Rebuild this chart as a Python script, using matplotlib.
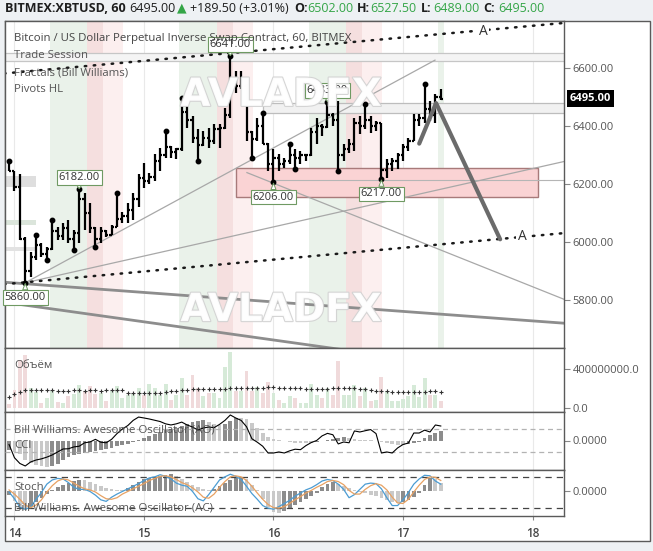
import numpy as np
import matplotlib
matplotlib.use('Agg')
import matplotlib.pyplot as plt
import matplotlib.patheffects as pe
import matplotlib.transforms as mtransforms
from matplotlib.patches import Rectangle

plt.rcParams['font.family'] = ['Open Sans', 'DejaVu Sans']

# ---------------- data ----------------
# hourly bars, first one on the 13th at 23:00
first_bar_day = 13 + 23 / 24

opens = [6275, 6245, 6190, 6012, 5900, 5950, 5990, 5960, 5975, 6040,
         6020, 6050, 6010, 6030, 6150, 6100, 6050, 6010, 6040, 6025,
         6052, 6080, 6090, 6110, 6150, 6220, 6210, 6225, 6280, 6300,
         6330, 6310, 6320, 6450, 6420, 6360, 6335, 6360, 6350, 6390,
         6395, 6440, 6560, 6540, 6540, 6380, 6355, 6400, 6340, 6270,
         6290, 6270, 6280, 6300, 6290, 6300, 6300, 6380, 6400, 6398,
         6440, 6420, 6300, 6320, 6340, 6410, 6400, 6420, 6400, 6410,
         6250, 6270, 6280, 6300, 6330, 6350, 6420, 6430, 6460, 6440,
         6502]
highs = [6281, 6247, 6236, 6017, 5965, 6024, 5996, 5983, 6075, 6051,
         6065, 6075, 6041, 6182, 6168, 6134, 6051, 6051, 6041, 6058,
         6168, 6103, 6134, 6168, 6236, 6274, 6240, 6305, 6326, 6384,
         6332, 6326, 6497, 6470, 6435, 6391, 6384, 6394, 6408, 6408,
         6463, 6641, 6590, 6590, 6545, 6384, 6428, 6446, 6342, 6322,
         6305, 6291, 6339, 6322, 6315, 6305, 6394, 6428, 6408, 6483,
         6446, 6487, 6339, 6356, 6428, 6435, 6477, 6435, 6418, 6411,
         6288, 6291, 6308, 6339, 6360, 6442, 6442, 6545, 6487, 6511,
         6527.5]
lows = [6247, 6178, 6007, 5860, 5880, 5938, 5948, 5938, 5972, 6007,
        6007, 5996, 5972, 5996, 6041, 6031, 5983, 5996, 6017, 6024,
        6051, 6065, 6065, 6075, 6120, 6188, 6202, 6212, 6247, 6291,
        6291, 6288, 6315, 6394, 6343, 6281, 6332, 6326, 6339, 6326,
        6391, 6428, 6514, 6528, 6350, 6291, 6350, 6339, 6247, 6206,
        6247, 6257, 6271, 6254, 6271, 6281, 6298, 6339, 6367, 6394,
        6401, 6247, 6281, 6308, 6315, 6374, 6391, 6377, 6384, 6217,
        6223, 6247, 6254, 6281, 6315, 6350, 6401, 6411, 6418, 6411,
        6489]
closes = [6245, 6190, 6012, 5900, 5950, 5990, 5960, 5975, 6040, 6020,
          6050, 6010, 6030, 6150, 6100, 6050, 6010, 6040, 6025, 6052,
          6080, 6090, 6110, 6150, 6220, 6210, 6225, 6280, 6300, 6330,
          6310, 6320, 6450, 6420, 6360, 6335, 6360, 6350, 6390, 6395,
          6440, 6560, 6540, 6540, 6380, 6355, 6400, 6340, 6270, 6290,
          6270, 6280, 6300, 6290, 6300, 6300, 6380, 6400, 6398, 6440,
          6420, 6300, 6320, 6340, 6410, 6400, 6420, 6400, 6410, 6250,
          6270, 6280, 6300, 6330, 6350, 6420, 6430, 6460, 6440, 6502,
          6495]

# volume, millions
volume = [40, 185, 490, 540, 205, 160, 50, 100, 170, 60,
          50, 120, 140, 240, 170, 230, 140, 150, 70, 170,
          230, 100, 135, 140, 200, 135, 250, 200, 135, 250,
          85, 135, 310, 135, 335, 200, 120, 150, 150, 100,
          420, 570, 170, 170, 380, 170, 220, 150, 270, 150,
          85, 50, 120, 100, 50, 50, 250, 135, 100, 210,
          135, 480, 135, 135, 240, 120, 210, 75, 85, 315,
          170, 70, 70, 90, 120, 240, 110, 310, 135, 135,
          70]
volume_ma = [110, 140, 160, 180, 185, 185, 180, 180, 180, 175,
             175, 175, 180, 180, 175, 180, 180, 175, 180, 185,
             185, 180, 155, 150, 150, 150, 150, 150, 155, 160,
             170, 175, 180, 180, 190, 190, 190, 195, 195, 195,
             190, 200, 200, 200, 205, 205, 210, 210, 215, 215,
             210, 210, 205, 200, 200, 195, 195, 190, 190, 195,
             200, 200, 200, 200, 200, 195, 190, 180, 175, 175,
             170, 165, 160, 160, 160, 160, 165, 165, 170, 170,
             165]

ao = [-9, -11, -13, -19, -22, -24, -25, -26, -25, -23,
      -19, -16, -14, -13, -12, -11, -10, -9, -8, -7,
      -5, -4, -3, -1, 1, 3, 5, 7, 9, 11,
      12, 13, 15, 17, 19, 20, 21, 19, 17, 16,
      17, 20, 23, 23, 22, 18, 13, 8, 4, 2,
      1, 0, -1, -2, -2, -2, -2, -1, 0, 1,
      2, 3, 4, 3, 2, 1, 1, 1, 0, -1,
      -2, -3, -4, -4, -3, -2, -1, 3, 6, 8,
      10]
cci = [-35, -150, -200, -222, -187, -170, -160, -145, -126, -100,
       -74, -72, -56, -50, -20, -13, 10, -15, -20, 10,
       60, 100, 130, 175, 204, 196, 187, 176, 165, 145,
       135, 145, 160, 135, 117, 91, 109, 117, 112, 140,
       175, 222, 196, 175, 120, 15, -15, -50, -109, -109,
       -100, -109, -90, -76, -80, -45, -18, 0, 40, 62,
       50, -30, -13, -20, 83, 74, 85, 95, 60, -109,
       -100, -109, -65, -35, -22, 65, 65, 90, 74, 135,
       126]
ac = [-4, -10, -17, -19, -16, -11, -7, -3, 1, 4,
      6, 8, 10, 11, 11, 9, 7, 5, 3, 2,
      1, 1, 3, 6, 9, 12, 13, 14, 15, 16,
      17, 15, 12, 9, 6, 4, 2, 1, 2, 5,
      8, 11, 13, 14, 12, 6, 1, -8, -16, -21,
      -22, -20, -17, -14, -11, -8, -5, -2, 4, 7,
      9, 7, 5, 3, 1, -1, -2, -4, -5, -7,
      -9, -11, -12, -11, -9, -6, -2, 6, 13, 12,
      8]
stoch_k = [51, 38, 22, 18, 22, 37, 50, 66, 74, 77,
           76, 69, 60, 56, 56, 52, 45, 36, 33, 41,
           47, 52, 57, 62, 67, 73, 78, 80, 84, 81,
           76, 68, 64, 62, 52, 38, 34, 46, 60, 74,
           80, 85, 81, 75, 62, 48, 37, 25, 20, 18,
           23, 29, 35, 43, 49, 55, 59, 65, 72, 75,
           73, 66, 56, 40, 46, 56, 66, 68, 67, 57,
           40, 25, 25, 36, 50, 66, 76, 83, 82, 72,
           66]
stoch_d = [55, 47, 37, 26, 21, 26, 36, 51, 63, 72,
           76, 74, 68, 62, 57, 55, 51, 44, 38, 37,
           40, 47, 52, 57, 62, 67, 73, 77, 81, 82,
           80, 75, 69, 65, 59, 51, 41, 39, 47, 60,
           71, 80, 82, 80, 73, 62, 49, 37, 27, 21,
           20, 23, 29, 36, 42, 49, 54, 60, 65, 71,
           73, 71, 65, 54, 47, 47, 56, 63, 67, 64,
           55, 41, 30, 29, 37, 51, 64, 75, 80, 79,
           73]

fractal_highs = [0, 5, 8, 13, 20, 29, 32, 41, 47, 52, 59, 66, 77]
fractal_lows = [3, 7, 12, 16, 35, 45, 49, 53, 61, 69]
pivot_labels = [(3, 'low', '5860.00'), (13, 'high', '6182.00'),
                (41, 'high', '6641.00'), (49, 'low', '6206.00'),
                (59, 'high', '6483.00'), (69, 'low', '6217.00')]

# trading sessions (day fractions)
green_sessions = [(14.274, 14.560), (15.274, 15.564), (16.274, 16.560), (17.272, 17.317)]
overlap_sessions = [(14.560, 14.683), (15.564, 15.687), (16.560, 16.683)]
ny_sessions = [(14.683, 14.838), (15.687, 15.842), (16.683, 16.838)]

# drawn objects (day, price)
fan_steep = ([14.083, 17.247], [5860, 6628])
fan_mid = ([14.083, 18.26], [5860, 6280])
fan_down = ([15.795, 18.26], [6240, 5800])
dotted_upper = ([13.92, 18.26], [6582, 6757])
dotted_lower = ([13.92, 18.26], [5855, 6032])
channel_a = ([13.92, 18.26], [5862, 5720])
channel_b = ([13.92, 16.60], [5793, 5625])
projection = ([17.125, 17.255, 17.75], [6340, 6480, 6010])
wave_labels = [(17.617, 6728, 'A'), (17.919, 6020, 'A')]
demand_zone = (15.712, 18.043, 6155, 6255)
level_6216 = (16.0, 6216)
top_band = (6625, 6652)
resist_box = (15.919, 6446, 6481)
left_blocks = [(6192, 6230, '#dedede'), (6061, 6078, '#dbe5db'), (5968, 5982, '#e2e2e2')]

last_price = 6495.00
price_ticks = [5800, 6000, 6200, 6400, 6600]
day_ticks = [14, 15, 16, 17, 18]

# ---------------- layout ----------------
W, H = 653, 551
fig = plt.figure(figsize=(W / 100, H / 100), dpi=100)
fig.patch.set_facecolor('#eef1f4')

def add_panel(x0, y0, x1, y1):
    return fig.add_axes([x0 / W, 1 - y1 / H, (x1 - x0) / W, (y1 - y0) / H])

frame = Rectangle((5 / W, 1 - 541 / H), 645 / W, 520 / H, transform=fig.transFigure,
                  facecolor='white', edgecolor='#5a5a5a', lw=1.0, zorder=0)
fig.add_artist(frame)

ax = add_panel(5, 21, 564, 348)
ax_vol = add_panel(5, 348, 564, 412)
ax_ao = add_panel(5, 412, 564, 470)
ax_ac = add_panel(5, 470, 564, 516)

t = first_bar_day + np.arange(len(closes)) / 24
xlim = (13.927, 18.243)
edge = '#5a5a5a'
txt_grey = '#555555'

def right_ticks(a):
    a.yaxis.tick_right()
    a.tick_params(axis='y', direction='out', length=4, width=0.8, color='#888888',
                  labelcolor=txt_grey, labelsize=8, pad=2)

for a in (ax, ax_vol, ax_ao, ax_ac):
    a.set_xlim(*xlim)
    for s in a.spines.values():
        s.set_color(edge)
        s.set_linewidth(1.0)
    right_ticks(a)
    a.tick_params(axis='x', bottom=False, labelbottom=False)
    for d in day_ticks:
        a.axvline(d, color='#e9e9e9', lw=0.8, zorder=0.5)

# ---------------- main price panel ----------------
ax.set_ylim(5635, 6763)
ax.set_yticks(price_ticks)
ax.set_yticklabels([f'{p:.2f}' for p in price_ticks])

for s0, s1 in green_sessions:
    ax.axvspan(s0, s1, color='#eaf2ea', lw=0, zorder=0.2)
for s0, s1 in overlap_sessions:
    ax.axvspan(s0, s1, color='#f5dfdf', lw=0, zorder=0.2)
for s0, s1 in ny_sessions:
    ax.axvspan(s0, s1, color='#fcefef', lw=0, zorder=0.2)

ax.axhspan(top_band[0], top_band[1], color='#f4f4f4', zorder=0.6, lw=0)
for p in top_band:
    ax.axhline(p, color='#c6c6c6', lw=0.9, zorder=0.7)
ax.add_patch(Rectangle((resist_box[0], resist_box[1]), xlim[1] - resist_box[0] + 0.1,
                       resist_box[2] - resist_box[1], facecolor='#f1f1f1',
                       edgecolor='#bdbdbd', lw=0.9, zorder=0.7))
for p0, p1, c in left_blocks:
    ax.add_patch(Rectangle((xlim[0], p0), 0.24, p1 - p0, facecolor=c, lw=0, zorder=0.7))

z0, z1, zp0, zp1 = demand_zone
ax.add_patch(Rectangle((z0, zp0), z1 - z0, zp1 - zp0, facecolor='#fad3d4',
                       edgecolor='#a87a7a', lw=1.0, zorder=0.8))
ax.plot([level_6216[0], xlim[1]], [level_6216[1]] * 2, color='#b5b5b5', lw=0.8, zorder=0.9)

for line in (fan_steep, fan_mid, fan_down):
    ax.plot(line[0], line[1], color='#a8a8a8', lw=0.9, zorder=1)
for line in (channel_a, channel_b):
    ax.plot(line[0], line[1], color='#8d8d8d', lw=2.0, zorder=1)
for line in (dotted_upper, dotted_lower):
    ax.plot(line[0], line[1], color='#1a1a1a', lw=1.8, linestyle=(0, (0.6, 3.0)),
            dash_capstyle='round', zorder=1.2)
for x, y, s in wave_labels:
    ax.text(x, y, s, fontsize=10, color='#333333', ha='center', va='center', zorder=2,
            bbox=dict(facecolor='white', edgecolor='none', pad=1.0))

# OHLC bars
tick_w = 0.4 / 24
ax.vlines(t, lows, highs, color='black', lw=1.6, zorder=3)
ax.hlines(opens, t - tick_w, t, color='black', lw=1.6, zorder=3)
ax.hlines(closes, t, t + tick_w, color='black', lw=1.6, zorder=3)

hi = np.array(highs)
lo = np.array(lows)
ax.plot(t[fractal_highs], hi[fractal_highs], 'o', color='black', ms=3.2, zorder=3.5)
ax.plot(t[fractal_lows], lo[fractal_lows], 'o', color='black', ms=3.2, zorder=3.5)

for i, kind, s in pivot_labels:
    if kind == 'high':
        xy, dy = (t[i], highs[i]), 8.5
    else:
        xy, dy = (t[i], lows[i]), -10.5
    an = ax.annotate(s, xy=xy, xytext=(0, dy), textcoords='offset points',
                     ha='center', va='center', fontsize=8, color='#333333', zorder=4,
                     bbox=dict(boxstyle='square,pad=0.15', facecolor='white',
                               edgecolor='#6f9a63', lw=0.8),
                     arrowprops=dict(arrowstyle='wedge,tail_width=0.45,shrink_factor=0.5',
                                     facecolor='white', edgecolor='#6f9a63', lw=0.7,
                                     shrinkA=0, shrinkB=0.5))
    an.set_clip_on(True)

ax.plot(projection[0], projection[1], color='#6b6b6b', lw=3.0, solid_capstyle='round',
        zorder=5)

for yf in (0.774, 0.116):
    ax.text(0.494, yf, 'AVLADFX', transform=ax.transAxes, fontsize=28,
            fontweight='bold', family='DejaVu Sans', color='white', alpha=0.92,
            ha='center', va='center', zorder=6,
            path_effects=[pe.withStroke(linewidth=1.6, foreground='#d2d2d2')])

ax.text(0.016, 0.948, 'Bitcoin / US Dollar Perpetual Inverse Swap Contract, 60, BITMEX',
        transform=ax.transAxes, fontsize=8.2, color='#444444', va='center', zorder=7)
for yf, s in ((0.896, 'Trade Session'), (0.841, 'Fractals (Bill Williams)'),
              (0.789, 'Pivots HL')):
    ax.text(0.016, yf, s, transform=ax.transAxes, fontsize=8.2, color=txt_grey,
            va='center', zorder=7)

blend = mtransforms.blended_transform_factory(ax.transAxes, ax.transData)
ax.text(1.0 + 6 / 559, last_price, f'{last_price:.2f}', transform=blend, fontsize=8,
        fontweight='bold', color='white', va='center', ha='left', clip_on=False,
        bbox=dict(boxstyle='square,pad=0.25', facecolor='black', edgecolor='none'))

# ---------------- volume ----------------
vol_colors = ['#d6ead8' if c >= o else '#f0dadb' for o, c in zip(opens, closes)]
ax_vol.bar(t, np.array(volume) * 1e6, width=0.72 / 24, color=vol_colors, zorder=1)
ax_vol.plot(t, np.array(volume_ma) * 1e6, '+', color='#333333', ms=3, mew=0.8, zorder=2)
ax_vol.set_ylim(-0.41e8, 6.15e8)
ax_vol.set_yticks([0, 4e8])
ax_vol.set_yticklabels(['0.0', '400000000.0'])
ax_vol.text(0.016, 0.734, 'Объём', transform=ax_vol.transAxes, fontsize=8.2,
            color=txt_grey, va='center')

# ---------------- AO + CCI ----------------
ao_colors = ['#8c8c8c' if (i == 0 or ao[i] > ao[i - 1]) else '#c9c9c9' for i in range(len(ao))]
ax_ao.bar(t, ao, width=0.7 / 24, color=ao_colors, zorder=1)
ax_ao.set_ylim(-29.5, 28.5)
ax_cci = ax_ao.twinx()
ax_cci.set_ylim(-257, 248)
ax_cci.set_xlim(*xlim)
ax_cci.axis('off')
right_ticks(ax_ao)   # twinx moves the host ticks to the left
ax_ao.set_yticks([0])
ax_ao.set_yticklabels(['0.0000'])
for lvl in (100, -100):
    ax_cci.axhline(lvl, color='#b3b3b3', lw=0.9, dashes=(4, 3))
ax_cci.plot(t, cci, color='black', lw=0.8)
ax_cci.text(0.016, 0.69, 'Bill Williams. Awesome Oscillator (AO)', transform=ax_ao.transAxes,
            fontsize=8.2, color=txt_grey, va='center')
ax_cci.text(0.016, 0.414, 'CCI', transform=ax_ao.transAxes, fontsize=8.2,
            color=txt_grey, va='center')

# ---------------- Stoch + AC ----------------
ac_colors = ['#8c8c8c' if (i == 0 or ac[i] > ac[i - 1]) else '#c9c9c9' for i in range(len(ac))]
ax_ac.bar(t, ac, width=0.7 / 24, color=ac_colors, zorder=1)
ax_ac.set_ylim(-25, 21)
ax_st = ax_ac.twinx()
ax_st.set_ylim(5, 93.1)
ax_st.set_xlim(*xlim)
ax_st.axis('off')
right_ticks(ax_ac)
ax_ac.set_yticks([0])
ax_ac.set_yticklabels(['0.0000'])
for lvl in (80, 20):
    ax_st.axhline(lvl, color='#444444', lw=0.9, dashes=(5, 4))
ax_st.plot(t, stoch_k, color='#4b9cd3', lw=0.9)
ax_st.plot(t, stoch_d, color='#e8a263', lw=0.9)
ax_st.text(0.016, 0.61, 'Stoch', transform=ax_ac.transAxes, fontsize=8.2,
           color=txt_grey, va='center')
ax_st.text(0.016, 0.174, 'Bill Williams. Awesome Oscillator (AC)', transform=ax_ac.transAxes,
           fontsize=8.2, color=txt_grey, va='center')

ax_ac.tick_params(axis='x', bottom=True, labelbottom=True, length=3, color='#888888',
                  labelsize=8.5, labelcolor='#444444', pad=5)
ax_ac.set_xticks(day_ticks)
ax_ac.set_xticklabels([str(d) for d in day_ticks], fontweight='semibold')

# ---------------- header ----------------
green = '#34a547'
dark = '#1e1e1e'
header = [(5, 'BITMEX:XBTUSD, 60', dark, 'bold'), (129, '6495.00', dark, 'normal'),
          (177, '▲', green, 'normal'), (190, '+189.50 (+3.01%)', dark, 'normal'),
          (294, 'O:', dark, 'bold'), (307, '6502.00', green, 'normal'),
          (357, 'H:', dark, 'bold'), (370, '6527.50', green, 'normal'),
          (421, 'L:', dark, 'bold'), (433, '6489.00', green, 'normal'),
          (483, 'C:', dark, 'bold'), (498, '6495.00', green, 'normal')]
for x, s, c, w in header:
    fig.text(x / W, 1 - 8 / H, s, color=c, fontweight=w, fontsize=9, va='center', ha='left')

fig.savefig('out.png', dpi=100, facecolor=fig.get_facecolor())
